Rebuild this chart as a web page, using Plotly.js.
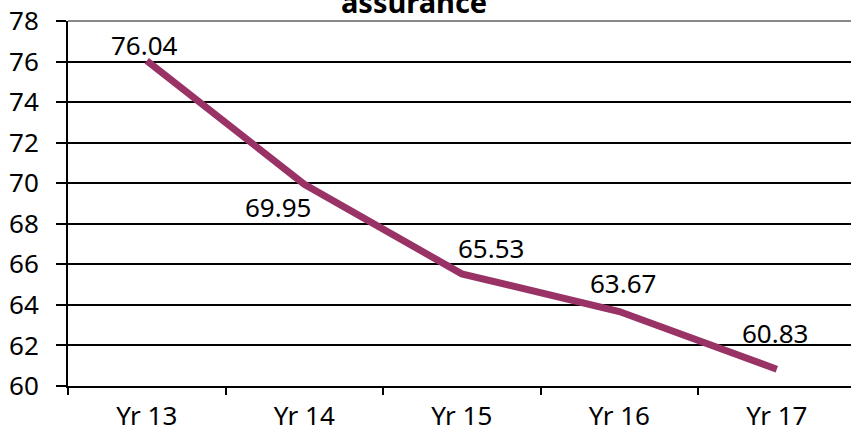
<!DOCTYPE html>
<html>
<head>
<meta charset="utf-8">
<script src="https://cdn.plot.ly/plotly-3.0.1.min.js"></script>
<style>html,body{margin:0;padding:0;background:#fff;}#chart{width:851px;height:433px;}</style>
</head>
<body>
<div id="chart"></div>
<script>
const categories = ["Yr 13", "Yr 14", "Yr 15", "Yr 16", "Yr 17"];
const values = [76.04, 69.95, 65.53, 63.67, 60.83];
const yTicks = [60, 62, 64, 66, 68, 70, 72, 74, 76, 78];
const titleText = "assurance";

// label offsets (pixels) relative to each point
const labelShiftX = [-2, -26, 29, 4, -2];
const labelShiftY = [16, -23, 26, 29, 36];

const trace = {
  type: "scatter",
  mode: "lines",
  x: categories,
  y: values,
  line: {color: "#993366", width: 7},
  hoverinfo: "skip"
};

const annotations = categories.map((c, i) => ({
  x: c, y: values[i], xref: "x", yref: "y",
  text: values[i].toFixed(2),
  showarrow: false,
  xshift: labelShiftX[i], yshift: labelShiftY[i],
  font: {family: "Noto Sans, Open Sans, sans-serif", size: 26, color: "#000"}
}));

const layout = {
  width: 851, height: 433,
  margin: {l: 68, r: 0, t: 21, b: 47, pad: 0},
  paper_bgcolor: "#fff", plot_bgcolor: "#fff",
  showlegend: false,
  title: {
    text: "<b>" + titleText + "</b>",
    xref: "paper", x: 0.442, xanchor: "center",
    yref: "container", y: 0.994, yanchor: "middle",
    font: {family: "Noto Sans, Open Sans, sans-serif", size: 29, color: "#000"}
  },
  xaxis: {
    type: "category",
    range: [-0.5, 4.471],
    tickson: "boundaries",
    ticks: "outside", ticklen: 7, tickwidth: 2, tickcolor: "#000",
    showline: true, linecolor: "#000", linewidth: 2,
    showgrid: false, zeroline: false,
    tickfont: {family: "Noto Sans, Open Sans, sans-serif", size: 26, color: "#000"},
    ticklabelstandoff: 6
  },
  yaxis: {
    range: [60, 78],
    tickvals: yTicks,
    ticktext: yTicks.map(String),
    ticks: "outside", ticklen: 10, tickwidth: 2, tickcolor: "#000",
    showline: true, linecolor: "#000", linewidth: 2,
    showgrid: true, gridcolor: "#000", gridwidth: 2,
    zeroline: false,
    tickfont: {family: "Noto Sans, Open Sans, sans-serif", size: 26, color: "#000"},
    ticklabelstandoff: 12
  },
  shapes: [{
    type: "line", xref: "paper", yref: "paper",
    x0: 0, x1: 1, y0: 1, y1: 1,
    line: {color: "#888", width: 2}, layer: "above"
  }],
  annotations: annotations
};

Plotly.newPlot("chart", [trace], layout, {staticPlot: true, displayModeBar: false});
</script>
</body>
</html>
